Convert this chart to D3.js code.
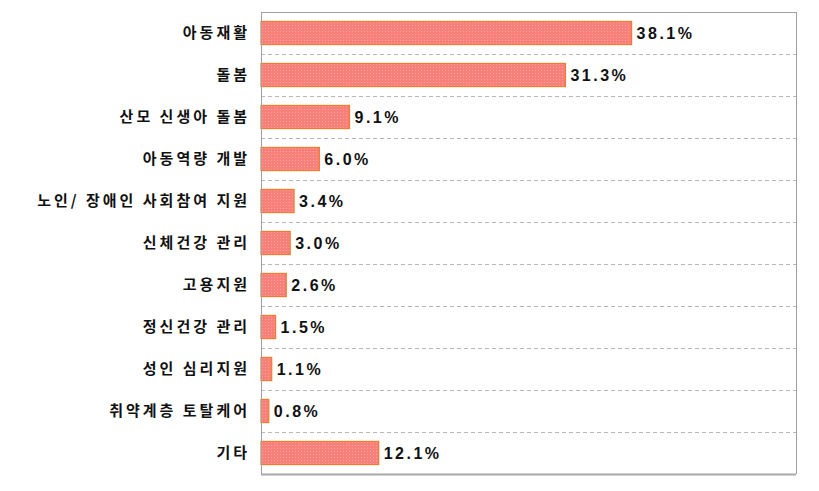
<!DOCTYPE html>
<html>
<head>
<meta charset="utf-8">
<script src="https://cdn.jsdelivr.net/npm/d3@7"></script>
<style>
  body { margin: 0; background: #fff; }
  svg { display: block; }
</style>
</head>
<body>
<div id="chart"></div>
<script>
// categories and values
const categories = [
  "아동재활", "돌봄", "산모 신생아 돌봄", "아동역량 개발", "노인/ 장애인 사회참여 지원",
  "신체건강 관리", "고용지원", "정신건강 관리", "성인 심리지원", "취약계층 토탈케어", "기타"
];
const values = [38.1, 31.3, 9.1, 6.0, 3.4, 3.0, 2.6, 1.5, 1.1, 0.8, 12.1];

const w = 819, h = 491;
const margin = { top: 12, right: 23, bottom: 17, left: 261 };

const svg = d3.select("#chart").append("svg")
  .attr("width", w)
  .attr("height", h);

// dotted texture for the bars
const defs = svg.append("defs");
const pat = defs.append("pattern")
  .attr("id", "dots")
  .attr("width", 3)
  .attr("height", 3)
  .attr("patternUnits", "userSpaceOnUse");
pat.append("rect").attr("width", 3).attr("height", 3).attr("fill", "#f8807a");
pat.append("rect").attr("x", 1).attr("y", 1).attr("width", 1).attr("height", 1).attr("fill", "#fba39c");

const x = d3.scaleLinear()
  .domain([0, 55])
  .range([margin.left, w - margin.right]);

const y = d3.scaleBand()
  .domain(categories)
  .range([margin.top, h - margin.bottom])
  .paddingInner(0.45)
  .paddingOuter(0.225);

const step = y.step();

// dashed separators between categories
svg.append("g")
  .selectAll("line")
  .data(categories.slice(1))
  .enter()
  .append("line")
  .attr("x1", margin.left)
  .attr("x2", w - margin.right)
  .attr("y1", (d) => Math.round(y(d) - y.paddingInner() * step / 2) + 0.5)
  .attr("y2", (d) => Math.round(y(d) - y.paddingInner() * step / 2) + 0.5)
  .attr("stroke", "#b8b8b8")
  .attr("stroke-dasharray", "4,3");

// frame
svg.append("line")
  .attr("x1", margin.left).attr("x2", w - margin.right)
  .attr("y1", margin.top + 0.5).attr("y2", margin.top + 0.5)
  .attr("stroke", "#a0a0a0");
svg.append("line")
  .attr("x1", w - margin.right + 0.5).attr("x2", w - margin.right + 0.5)
  .attr("y1", margin.top).attr("y2", h - margin.bottom)
  .attr("stroke", "#a0a0a0");

// bars
svg.append("g")
  .selectAll("rect")
  .data(values)
  .enter()
  .append("rect")
  .attr("x", x(0))
  .attr("y", (d, i) => y(categories[i]))
  .attr("width", (d) => x(d) - x(0))
  .attr("height", y.bandwidth())
  .attr("fill", "url(#dots)")
  .attr("stroke", "#f47a2a")
  .attr("stroke-width", 1.2);

// value labels
svg.append("g")
  .selectAll("text")
  .data(values)
  .enter()
  .append("text")
  .attr("x", (d) => x(d) + 5)
  .attr("y", (d, i) => y(categories[i]) + y.bandwidth() / 2)
  .attr("dy", "0.36em")
  .attr("font-family", "Liberation Sans, Arial, sans-serif")
  .attr("font-weight", "bold")
  .attr("font-size", 16)
  .attr("letter-spacing", 2.5)
  .attr("fill", "#111")
  .text((d) => d.toFixed(1) + "%");

// category axis
const yAxis = d3.axisLeft(y).tickSize(0).tickPadding(11);
const gy = svg.append("g")
  .attr("transform", `translate(${margin.left},0)`)
  .call(yAxis);
gy.select(".domain").attr("stroke", "#a0a0a0");
gy.selectAll("text")
  .attr("font-family", "Noto Sans CJK KR, sans-serif")
  .attr("font-weight", "bold")
  .attr("font-size", 15)
  .attr("letter-spacing", 3)
  .attr("fill", "#111");

// bottom axis line (no ticks)
svg.append("line")
  .attr("x1", margin.left).attr("x2", w - margin.right)
  .attr("y1", h - margin.bottom + 0.5).attr("y2", h - margin.bottom + 0.5)
  .attr("stroke", "#a8a8a8")
  .attr("stroke-width", 2);
</script>
</body>
</html>
